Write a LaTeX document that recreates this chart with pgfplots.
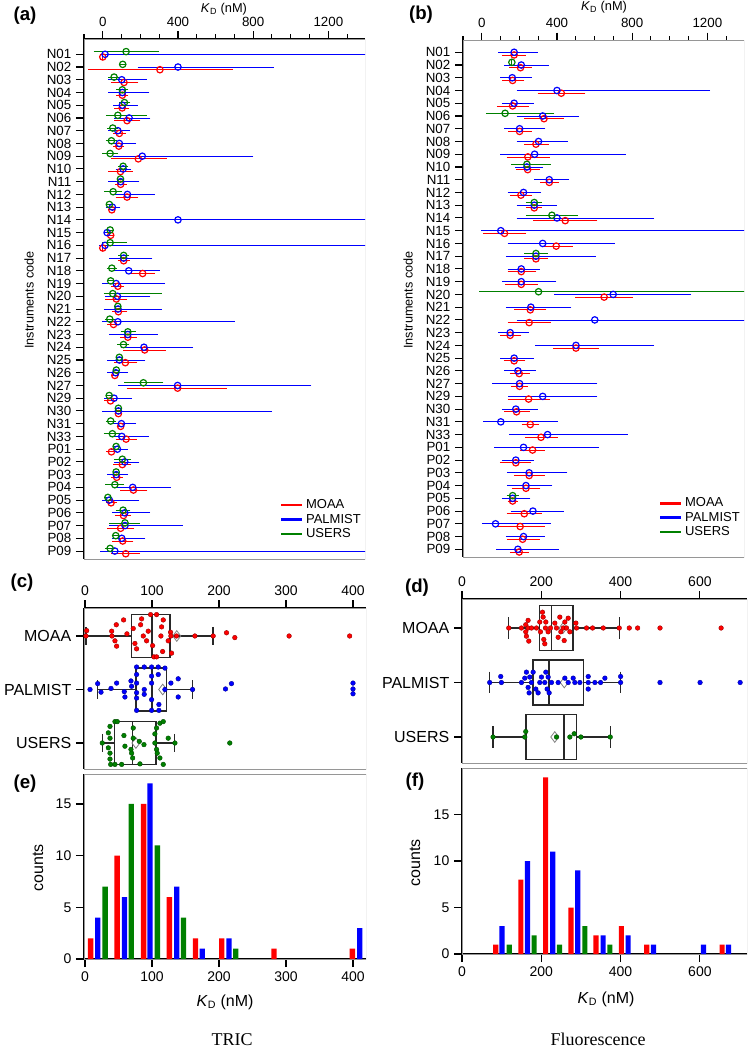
\documentclass[border=0pt]{standalone}
\usepackage{fontspec}
\setmainfont{Liberation Sans}
\newfontfamily\serifft{Liberation Serif}
\usepackage{pgfplots}
\pgfplotsset{compat=1.18}
\usepgfplotslibrary{statistics}
\usepackage{pgfplotstable}
\definecolor{mgreen}{RGB}{0,128,0}
\definecolor{framegray}{RGB}{150,150,150}
\definecolor{boxc}{RGB}{40,40,40}

% ---------- panel (a): TRIC, per instrument ----------
\pgfplotstableread{
r c lo hi
1 0 0 0
2 304 -64 679
3 113 60 175
4 104 87 122
5 103 74 127
6 129 74 186
7 88 71 108
8 85 71 99
9 189 58 327
10 94 44 145
11 95 78 113
12 129 83 175
13 48 44 52
15 42 38 46
16 0 0 0
17 111 95 129
18 212 161 263
19 80 60 97
20 72 27 117
21 83 65 117
22 57 39 74
23 133 106 166
24 223 124 322
25 120 74 170
26 64 60 68
27 398 141 645
28 41 21 60
29 83 79 87
30 95 91 99
31 124 83 166
32 46 32 60
33 104 71 138
34 74 57 92
35 163 106 223
36 44 30 60
37 110 78 136
38 95 39 154
39 106 64 148
40 122 60 184
}\aM
\pgfplotstableread{
r c lo hi
1 12 0 1600
2 400 200 896
3 101 42 219
4 104 42 233
5 104 69 171
6 140 74 239
7 80 42 131
8 88 48 163
9 210 69 787
10 108 83 136
11 95 42 180
12 131 69 262
13 51 30 80
14 400 -2 1600
15 23 19 27
16 12 -5 1600
17 111 49 249
18 138 67 290
19 71 9 318
20 78 27 239
21 81 18 299
22 80 9 688
23 133 48 277
24 219 110 467
25 88 39 212
26 69 39 120
27 398 95 1096
28 60 21 141
29 83 9 887
30 99 62 163
31 101 51 230
32 78 57 120
33 117 74 180
34 71 39 120
35 159 67 350
36 35 9 180
37 117 62 237
38 118 48 410
39 101 65 212
40 64 0 1600
}\aP
\pgfplotstableread{
r c lo hi
1 124 -35 286
2 106 102 110
3 60 44 78
4 104 87 122
5 115 101 133
6 80 30 219
7 53 39 67
8 46 30 62
9 39 12 69
10 108 94 122
11 94 90 98
12 55 21 88
13 35 31 39
15 39 35 43
16 39 9 113
17 111 97 127
18 48 35 62
19 42 38 46
20 53 18 300
21 80 76 84
22 37 25 51
23 133 110 163
24 110 92 127
25 88 84 92
26 72 68 76
27 216 127 308
28 34 30 38
29 83 79 87
30 42 30 57
31 51 18 92
32 71 67 75
33 104 74 136
34 71 67 75
35 64 27 99
36 27 23 31
37 108 83 133
38 118 48 184
39 69 65 73
40 39 25 53
}\aU

% ---------- panel (b): Fluorescence, per instrument ----------
\pgfplotstableread{
r c lo hi
1 172 121 219
2 206 160 252
3 164 123 212
4 423 311 537
5 164 94 235
6 331 240 423
7 201 155 252
8 288 240 341
9 245 146 347
10 244 196 293
11 359 324 395
12 208 164 254
13 279 249 306
14 444 288 601
15 121 21 222
16 396 334 471
17 288 240 338
18 210 151 276
19 210 139 284
20 651 512 791
21 258 187 329
22 252 151 352
23 151 112 196
24 501 395 608
25 172 130 217
26 199 164 240
27 201 169 231
28 249 151 350
29 185 133 240
30 258 226 292
31 315 244 391
32 270 217 320
33 181 110 249
34 252 187 320
35 235 174 297
36 164 151 178
37 226 146 306
38 204 89 320
39 217 146 293
40 199 164 235
}\bM
\pgfplotstableread{
r c lo hi
1 172 101 284
2 210 133 343
3 162 112 252
4 400 199 1200
5 172 121 261
6 324 199 503
7 201 133 324
8 302 199 444
9 281 112 752
10 240 192 311
11 359 293 450
12 222 151 302
13 279 199 384
14 400 199 903
15 101 11 1600
16 324 151 693
17 288 142 592
18 210 151 293
19 210 121 382
20 699 400 1099
21 261 142 462
22 601 199 1600
23 151 100 235
24 501 299 903
25 172 112 263
26 192 133 272
27 201 71 601
28 324 156 601
29 181 121 284
30 101 21 391
31 350 160 761
32 222 80 610
33 181 121 261
34 252 148 441
35 235 148 361
36 164 121 244
37 272 169 421
38 73 14 352
39 222 142 320
40 192 92 395
}\bP
\pgfplotstableread{
r c lo hi
2 160 160 160
6 124 36 370
10 240 169 352
13 279 249 306
14 373 249 498
17 288 240 338
20 302 0 1600
36 164 146 183
}\bU

\newcommand\kdseries[3]{%
\addplot[forget plot, only marks, mark=o, mark size=2.4pt, draw=#1,
  mark options={line width=0.9pt, draw=#1, fill=none},
  error bars/.cd, x dir=both, x explicit,
  error bar style={line width=0.6pt, draw=#1},
  error mark options={line width=0.6pt, mark size=2pt, draw=#1}]
 table[x=c, y expr=\thisrow{r}+#2,
   x error plus expr=\thisrow{hi}-\thisrow{c},
   x error minus expr=\thisrow{c}-\thisrow{lo}] {#3};}

\pgfplotsset{
 common/.style={
   scale only axis,
   tick align=outside, major tick length=6pt, minor tick length=3.5pt,
   tick style={black, line width=0.8pt},
   axis line style={black, line width=0.9pt},
   /pgf/number format/assume math mode=true,
   /pgf/number format/1000 sep={},
 },
 kd/.style={common,
   width=210.75pt,
   axis x line*=top, axis y line*=left,
   y dir=reverse, xmin=-100, xmax=1395,
   xtick={0,400,800,1200},
   minor xtick={-100,100,200,300,500,600,700,900,1000,1100,1300},
   ytick={1,...,40},
   yticklabels={N01,N02,N03,N04,N05,N06,N07,N08,N09,N10,N11,N12,N13,N14,N15,N16,N17,N18,N19,N20,N21,N22,N23,N24,N25,N26,N27,N29,N30,N31,N33,P01,P02,P03,P04,P05,P06,P07,P08,P09},
   ticklabel style={font=\fontsize{10}{12}\selectfont},
   legend cell align=left,
   legend style={at={(rel axis cs:1,0.03)}, anchor=south east, draw=none, fill=none,
     font=\fontsize{9.75}{11}\selectfont, inner sep=1pt, row sep=-1.5pt},
 },
 boxp/.style={common,
   axis x line*=top, axis y line*=left,
   y dir=reverse, ytick={1,2,3}, yticklabels={MOAA,PALMIST,USERS},
   yticklabel style={font=\fontsize{12}{14}\selectfont},
   xticklabel style={font=\fontsize{10.5}{12}\selectfont},
   boxplot/draw direction=x,
 },
 histp/.style={common,
   axis x line*=bottom, axis y line*=left,
   ymin=0, ytick={0,5,10,15},
   ticklabel style={font=\fontsize{10.5}{12}\selectfont},
 },
}

\begin{document}
\begin{tikzpicture}
\useasboundingbox (0pt,0pt) rectangle (561.75pt,-786.75pt);

% ================= (a) =================
\begin{axis}[kd, at={(63pt,-29.25pt)}, anchor=north west, height=390.25pt,
  ymin=-0.2, ymax=40.65,
  legend image code/.code={\draw[#1, line width=2pt] (0pt,0pt) -- (15.5pt,0pt);}]
\draw[framegray, line width=0.6pt] (rel axis cs:0,0) rectangle (rel axis cs:1,1);
\kdseries{red}{0.21}{\aM}
\kdseries{blue}{0}{\aP}
\kdseries{mgreen}{-0.21}{\aU}
\addlegendimage{red}\addlegendentry{MOAA}
\addlegendimage{blue}\addlegendentry{PALMIST}
\addlegendimage{mgreen}\addlegendentry{USERS}
\end{axis}

% ================= (b) =================
\begin{axis}[kd, at={(347.25pt,-30.5pt)}, anchor=north west, height=387.5pt,
  ymin=0.09, ymax=40.63,
  legend image code/.code={\draw[#1, line width=2pt] (0pt,0pt) -- (15.5pt,0pt);}]
\draw[framegray, line width=0.6pt] (rel axis cs:0,0) rectangle (rel axis cs:1,1);
\kdseries{red}{0.21}{\bM}
\kdseries{blue}{0}{\bP}
\kdseries{mgreen}{-0.21}{\bU}
\addlegendimage{red}\addlegendentry{MOAA}
\addlegendimage{blue}\addlegendentry{PALMIST}
\addlegendimage{mgreen}\addlegendentry{USERS}
\end{axis}

% ================= (c) =================
\begin{axis}[boxp, at={(63pt,-456pt)}, anchor=north west, width=211.5pt, height=120.75pt,
  xmin=-1.5, xmax=419.4, ymin=0.477, ymax=3.486, xtick={0,100,200,300,400}]
\draw[framegray, line width=0.6pt] (rel axis cs:0,0) rectangle (rel axis cs:1,1);
\addplot[boxc, line width=1pt, boxplot prepared={lower whisker=1.5, lower quartile=69.6, median=100, upper quartile=127, upper whisker=191, draw position=1, box extend=0.8, whisker extend=0.34}] coordinates {};
\addplot[boxc, line width=1pt, boxplot prepared={lower whisker=19, lower quartile=76, median=100, upper quartile=122, upper whisker=160.5, draw position=2, box extend=0.8, whisker extend=0.34}] coordinates {};
\addplot[boxc, line width=1pt, boxplot prepared={lower whisker=26, lower quartile=43.7, median=71, upper quartile=106, upper whisker=134, draw position=3, box extend=0.8, whisker extend=0.34}] coordinates {};
\addplot[only marks, mark=diamond, mark size=4pt, mark options={draw=gray, fill=white, line width=0.6pt}] coordinates {(137,1) (116,2) (76,3)};
\addplot[only marks, mark=*, mark size=1.75pt, mark options={fill=red, draw=red!60!black, line width=0.3pt}] coordinates {
(2.5,0.90) (1.5,1.00) (39.8,0.91) (40.2,1.00) (46.7,0.79) (44.7,1.09) (47.2,1.19) (57.6,0.70) (62.6,0.96) (72.0,0.86) (74.5,1.14) (77.0,1.24) (84.5,0.68) (87.0,1.00) (83.0,0.79) (91.9,1.09) (94.4,0.91) (97.9,0.60) (100.9,1.18) (102.9,1.39) (106.8,0.60) (106.8,1.39) (114.3,0.83) (113.3,1.00) (116.8,0.70) (115.8,1.29) (124.2,1.09) (127.7,0.93) (129.2,1.32) (128.2,1.00) (136.6,1.00) (164.0,1.00) (191.3,1.00) (211.2,0.94) (223.6,1.03) (304.6,1.00) (395.0,1.00)};
\addplot[only marks, mark=*, mark size=1.75pt, mark options={fill=blue, draw=blue!60!black, line width=0.3pt}] coordinates {
(7.5,2.00) (18.9,1.89) (23.9,2.05) (38.8,1.98) (47.2,1.88) (58.6,2.04) (59.6,2.14) (68.6,1.84) (69.6,1.94) (77.0,1.58) (77.0,1.72) (77.0,1.88) (77.0,2.06) (77.0,2.16) (77.0,2.39) (88.4,1.58) (88.4,2.00) (88.4,2.09) (99.4,1.58) (99.4,1.75) (99.4,1.88) (99.4,2.19) (99.4,2.39) (109.3,1.58) (109.3,1.72) (110.3,2.28) (110.3,2.39) (119.3,1.60) (119.3,2.00) (128.2,1.88) (139.1,1.80) (139.1,2.14) (160.5,2.00) (209.7,1.99) (218.6,1.89) (400.0,1.88) (400.0,1.99) (400.0,2.08)};
\addplot[only marks, mark=*, mark size=1.75pt, mark options={fill=mgreen, draw=mgreen!60!black, line width=0.3pt}] coordinates {
(44.7,2.60) (48.2,2.60) (37.3,2.69) (34.8,2.81) (37.3,2.91) (25.8,3.00) (34.8,3.09) (58.1,2.86) (72.0,2.72) (72.0,2.91) (59.6,3.06) (68.6,3.12) (81.0,2.97) (88.0,3.03) (104.3,2.83) (106.8,2.72) (111.8,2.63) (116.8,2.60) (104.3,3.00) (124.2,2.91) (106.8,3.12) (134.2,3.00) (216.1,3.00) (37.3,3.19) (37.3,3.30) (38.3,3.40) (44.7,3.40) (54.7,3.40) (69.6,3.19) (71.1,3.28) (82.0,3.39) (107.8,3.19) (111.8,3.28) (116.8,3.40)};
\end{axis}

% ================= (d) =================
\begin{axis}[boxp, at={(346.5pt,-449.25pt)}, anchor=north west, width=213.75pt, height=123pt,
  xmin=0, xmax=718.8, ymin=0.468, ymax=3.477, xtick={0,200,400,600}]
\draw[framegray, line width=0.6pt] (rel axis cs:0,0) rectangle (rel axis cs:1,1);
\addplot[boxc, line width=1pt, boxplot prepared={lower whisker=118, lower quartile=196, median=226, upper quartile=280, upper whisker=398, draw position=1, box extend=0.83, whisker extend=0.4}] coordinates {};
\addplot[boxc, line width=1pt, boxplot prepared={lower whisker=70, lower quartile=179, median=219, upper quartile=307, upper whisker=400, draw position=2, box extend=0.83, whisker extend=0.4}] coordinates {};
\addplot[boxc, line width=1pt, boxplot prepared={lower whisker=78, lower quartile=161, median=257, upper quartile=289, upper whisker=374, draw position=3, box extend=0.83, whisker extend=0.4}] coordinates {};
\addplot[only marks, mark=diamond, mark size=4pt, mark options={draw=gray, fill=white, line width=0.6pt}] coordinates {(255,1) (258,2) (234,3)};
\addplot[only marks, mark=*, mark size=1.75pt, mark options={fill=red, draw=red!60!black, line width=0.3pt}] coordinates {
(117.9,1.00) (149.9,1.00) (160.8,0.94) (166.7,1.00) (160.8,1.07) (166.7,0.86) (162.5,1.15) (168.4,1.24) (175.2,1.00) (187.8,1.00) (196.2,0.89) (197.9,1.07) (202.9,0.71) (204.6,0.80) (206.3,1.21) (208.8,1.29) (210.5,1.00) (211.4,0.89) (217.3,1.07) (223.2,1.00) (234.1,0.91) (238.3,1.00) (242.5,1.17) (246.7,0.80) (249.3,1.07) (255.2,1.00) (257.7,1.23) (259.4,0.89) (263.6,1.00) (267.8,0.82) (272.0,1.07) (287.2,0.91) (288.8,1.00) (314.1,1.00) (329.3,1.00) (356.2,1.00) (396.6,1.00) (421.9,1.00) (442.9,1.00) (499.4,1.00) (653.5,1.00)};
\addplot[only marks, mark=*, mark size=1.75pt, mark options={fill=blue, draw=blue!60!black, line width=0.3pt}] coordinates {
(69.9,2.00) (97.7,1.89) (99.4,2.00) (149.9,2.00) (158.3,1.92) (162.5,1.81) (166.7,2.09) (169.3,2.19) (170.9,1.90) (175.2,2.00) (179.4,1.81) (186.1,2.12) (192.0,2.19) (196.2,2.00) (200.4,1.90) (208.8,2.00) (211.4,1.81) (214.7,2.12) (217.3,1.90) (219.8,2.19) (225.7,2.00) (242.5,2.00) (259.4,1.92) (267.8,2.00) (280.4,1.92) (284.6,2.00) (297.3,2.00) (318.3,1.89) (318.3,2.00) (318.3,2.12) (335.2,2.00) (349.5,2.00) (360.4,1.92) (400.0,1.89) (400.0,2.00) (499.4,2.00) (600.4,2.00) (701.5,2.00)};
\addplot[only marks, mark=*, mark size=1.75pt, mark options={fill=mgreen, draw=mgreen!60!black, line width=0.3pt}] coordinates {
(78.3,3.00) (160.8,2.90) (158.3,3.00) (238.3,3.00) (272.0,3.00) (282.9,2.94) (299.8,3.00) (373.9,3.00)};
\end{axis}

% ================= (e) =================
\begin{axis}[histp, at={(63pt,-580.5pt)}, anchor=north west, width=211.5pt, height=138.75pt,
  xmin=-1.5, xmax=419.4, ymax=17.9, xtick={0,100,200,300,400}]
\draw[framegray, line width=0.6pt] (rel axis cs:0,0) rectangle (rel axis cs:1,1);
\addplot[ybar, bar width=8, bar shift=0pt, fill=red, draw=none] coordinates {(8.4,2) (48,10) (87.5,15) (126,6) (165,2) (204,2) (282,1) (399,1)};
\addplot[ybar, bar width=8, bar shift=0pt, fill=blue, draw=none] coordinates {(19,4) (59,6) (97,17) (137,7) (175,1) (215,2) (410,3)};
\addplot[ybar, bar width=8, bar shift=0pt, fill=mgreen, draw=none] coordinates {(30,7) (69,15) (108,11) (147,4) (225,1)};
\end{axis}

% ================= (f) =================
\begin{axis}[histp, at={(346.5pt,-576pt)}, anchor=north west, width=213.75pt, height=139.5pt,
  xmin=0, xmax=718.8, ymax=20, xtick={0,200,400,600}]
\draw[framegray, line width=0.6pt] (rel axis cs:0,0) rectangle (rel axis cs:1,1);
\addplot[ybar, bar width=13, bar shift=0pt, fill=red, draw=none] coordinates {(85,1) (148.5,8) (211,19) (275,5) (338,2) (402,3) (466,1) (656,1)};
\addplot[ybar, bar width=13, bar shift=0pt, fill=blue, draw=none] coordinates {(101,3) (165,10) (229,11) (292,9) (356,2) (419,2) (483,1) (609,1) (672,1)};
\addplot[ybar, bar width=13, bar shift=0pt, fill=mgreen, draw=none] coordinates {(119,1) (182,2) (246,1) (310,3) (373,1)};
\end{axis}

% ================= text =================
\node[font=\bfseries\fontsize{14}{16}\selectfont] at (18.75pt,-12pt) {(a)};
\node[font=\bfseries\fontsize{14}{16}\selectfont] at (315.75pt,-11.25pt) {(b)};
\node[font=\bfseries\fontsize{14}{16}\selectfont] at (16.5pt,-437.25pt) {(c)};
\node[font=\bfseries\fontsize{14}{16}\selectfont] at (312.75pt,-441pt) {(d)};
\node[font=\bfseries\fontsize{14}{16}\selectfont] at (18.75pt,-588pt) {(e)};
\node[font=\bfseries\fontsize{14}{16}\selectfont] at (311.25pt,-586.5pt) {(f)};
\node[font=\fontsize{9.6}{11}\selectfont] at (168pt,-6.75pt) {\textit{K}\textsubscript{D} (nM)};
\node[font=\fontsize{9.6}{11}\selectfont] at (453pt,-5.25pt) {\textit{K}\textsubscript{D} (nM)};
\node[font=\fontsize{9.5}{11}\selectfont, rotate=90] at (21.75pt,-225pt) {Instruments code};
\node[font=\fontsize{9.5}{11}\selectfont, rotate=90] at (306pt,-225pt) {Instruments code};
\node[font=\fontsize{12}{14}\selectfont, rotate=90] at (28.5pt,-651pt) {counts};
\node[font=\fontsize{12}{14}\selectfont, rotate=90] at (311.25pt,-647.25pt) {counts};
\node[font=\fontsize{12}{14}\selectfont] at (168.75pt,-751.5pt) {\textit{K}\textsubscript{D} (nM)};
\node[font=\fontsize{12}{14}\selectfont] at (454.5pt,-749.25pt) {\textit{K}\textsubscript{D} (nM)};
\node[font=\serifft\fontsize{13.5}{16}\selectfont, anchor=base, inner sep=0pt] at (174pt,-783.75pt) {TRIC};
\node[font=\serifft\fontsize{13.5}{16}\selectfont, anchor=base, inner sep=0pt] at (448.5pt,-783.75pt) {Fluorescence};
\end{tikzpicture}
\end{document}
